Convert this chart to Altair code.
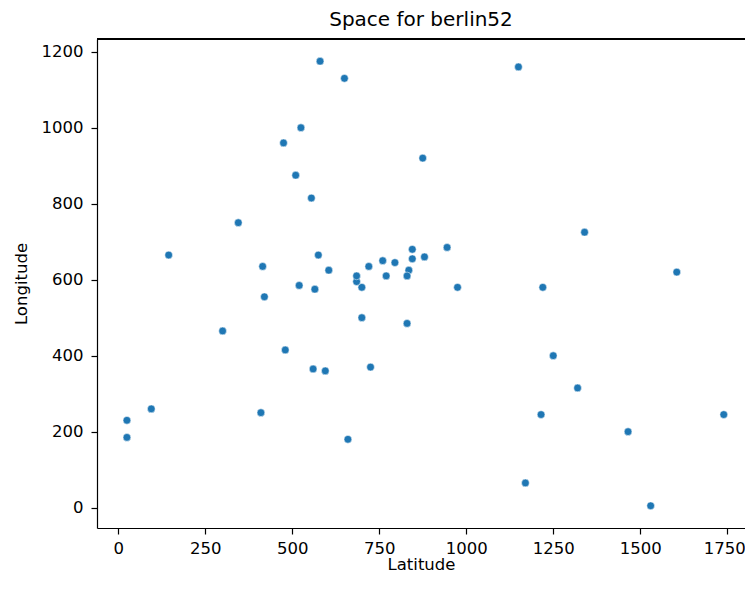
import altair as alt
import pandas as pd

latitude = [565, 25, 345, 945, 845, 880, 25, 525, 580, 650, 1605, 1220, 1465, 1530,
            845, 725, 145, 415, 510, 560, 300, 520, 480, 835, 975, 1215, 1320, 1250,
            660, 410, 420, 575, 1150, 700, 685, 685, 770, 795, 720, 760, 475, 95,
            875, 700, 555, 830, 1170, 830, 605, 595, 1340, 1740]
longitude = [575, 185, 750, 685, 655, 660, 230, 1000, 1175, 1130, 620, 580, 200, 5,
             680, 370, 665, 635, 875, 365, 465, 585, 415, 625, 580, 245, 315, 400,
             180, 250, 555, 665, 1160, 580, 595, 610, 610, 645, 635, 650, 960, 260,
             920, 500, 815, 485, 65, 610, 625, 360, 725, 245]
x_ticks = [0, 250, 500, 750, 1000, 1250, 1500, 1750]
y_ticks = [0, 200, 400, 600, 800, 1000, 1200]

df = pd.DataFrame({"Latitude": latitude, "Longitude": longitude})

font = "DejaVu Sans"
W, H = 648, 489

points = alt.Chart(df).mark_circle(
    size=60, color="#1f77b4", opacity=1, stroke="white", strokeWidth=0.5
).encode(
    x=alt.X("Latitude:Q",
            scale=alt.Scale(domain=[-61.0, 1801.0], nice=False, zero=False),
            axis=alt.Axis(values=x_ticks, title="Latitude", grid=False, format="d",
                          tickSize=6, labelPadding=6, titlePadding=0,
                          labelFlush=19, labelFlushOffset=18)),
    y=alt.Y("Longitude:Q",
            scale=alt.Scale(domain=[-53.5, 1233.5], nice=False, zero=False),
            axis=alt.Axis(values=y_ticks, title="Longitude", grid=False, format="d",
                          tickSize=6, labelPadding=8, titlePadding=12)),
)

top_spine = alt.Chart(df).mark_rule(color="black", strokeWidth=1.2).encode(
    x=alt.value(0), x2=alt.value(W), y=alt.value(0)
)

chart = alt.layer(points, top_spine).properties(
    width=W,
    height=H,
    title=alt.TitleParams("Space for berlin52", font=font, fontSize=20,
                          fontWeight="normal", color="black", offset=8),
    autosize=alt.AutoSizeParams(type="none"),
    padding={"left": 89, "top": 31, "right": 0, "bottom": 48},
).configure_view(
    stroke=None
).configure_axis(
    domainColor="black", tickColor="black", labelColor="black", titleColor="black",
    labelFont=font, titleFont=font, labelFontSize=16.5, titleFontSize=16.5,
    titleFontWeight="normal", domainWidth=1.2, tickWidth=1.2,
)

chart.save("out.html", embed_options={"renderer": "svg", "actions": False})
